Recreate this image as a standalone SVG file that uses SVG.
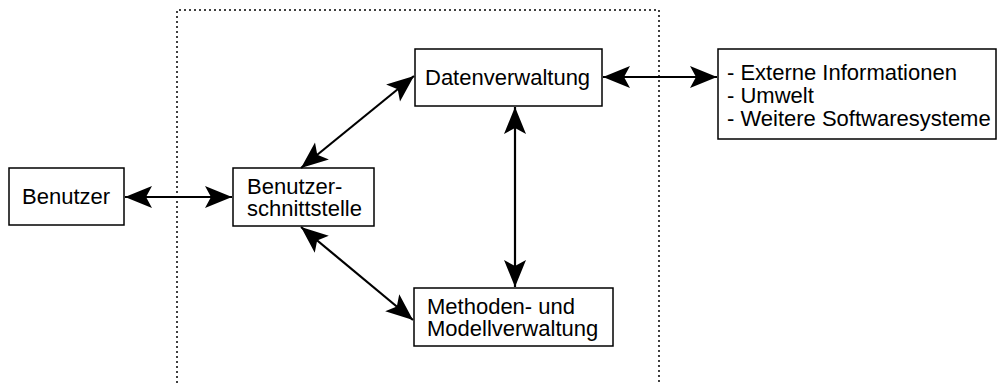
<svg xmlns="http://www.w3.org/2000/svg" width="998" height="383" viewBox="0 0 998 383">
  <style>
    .box { fill: #fff; stroke: #000; stroke-width: 1.5; }
    .lbl { font-family: "Liberation Sans", Arial, sans-serif; font-size: 22px; fill: #000; }
    .conn { stroke: #000; stroke-width: 2.2; fill: none; marker-start: url(#head); marker-end: url(#head); }
    .frame { stroke: #000; stroke-width: 1.5; fill: none; stroke-dasharray: 2 3; }
  </style>
  <defs>
    <!-- notched arrowhead used at both ends of every connector -->
    <marker id="head" viewBox="-30 -13 32 26" refX="0" refY="0" markerWidth="32" markerHeight="26" markerUnits="userSpaceOnUse" orient="auto-start-reverse">
      <path d="M0,0 L-27,-11 L-21,0 L-27,11 Z" fill="#000"/>
    </marker>
  </defs>

  <!-- system boundary (open at the bottom) -->
  <path class="frame" d="M177,383 V10 H659 V383"/>

  <g id="benutzer">
    <rect class="box" x="9" y="168" width="115" height="57"/>
    <text class="lbl" x="22" y="204">Benutzer</text>
  </g>

  <g id="benutzerschnittstelle">
    <rect class="box" x="233" y="168" width="141" height="58"/>
    <text class="lbl" x="247" y="194">Benutzer-</text>
    <text class="lbl" x="247" y="216">schnittstelle</text>
  </g>

  <g id="datenverwaltung">
    <rect class="box" x="415" y="49" width="187" height="57"/>
    <text class="lbl" x="425" y="85">Datenverwaltung</text>
  </g>

  <g id="methodenverwaltung">
    <rect class="box" x="414" y="288" width="199" height="58"/>
    <text class="lbl" x="427" y="314">Methoden- und</text>
    <text class="lbl" x="427" y="336">Modellverwaltung</text>
  </g>

  <g id="extern">
    <rect class="box" x="718" y="49" width="278" height="90"/>
    <text class="lbl" x="727" y="80">- Externe Informationen</text>
    <text class="lbl" x="727" y="103">- Umwelt</text>
    <text class="lbl" x="727" y="126">- Weitere Softwaresysteme</text>
  </g>

  <g id="connectors">
    <line class="conn" x1="125" y1="197" x2="232" y2="197"/>
    <line class="conn" x1="301" y1="168" x2="414" y2="76"/>
    <line class="conn" x1="301" y1="227" x2="413" y2="320"/>
    <line class="conn" x1="515" y1="107" x2="515" y2="287"/>
    <line class="conn" x1="603" y1="77" x2="717" y2="77"/>
  </g>
</svg>
